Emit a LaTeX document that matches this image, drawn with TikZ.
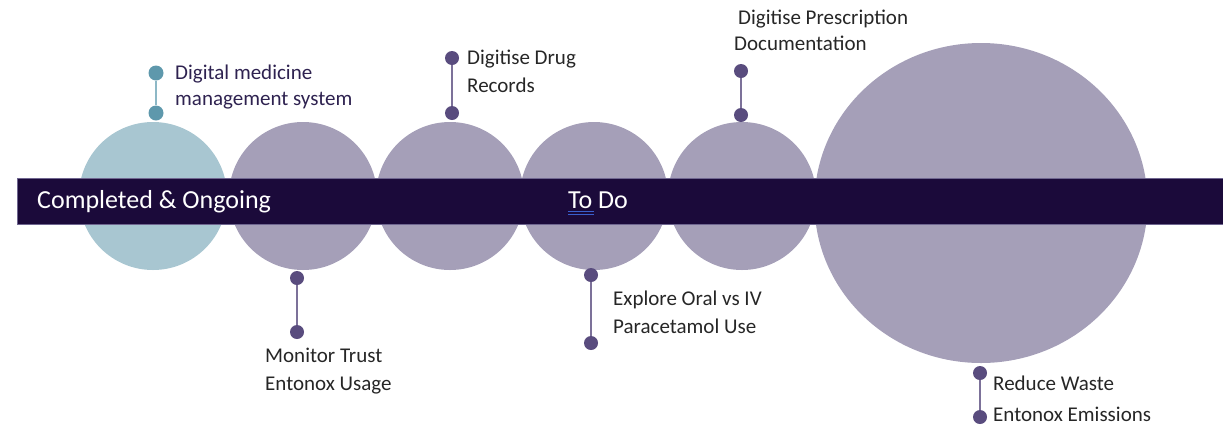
\documentclass[tikz,border=0pt]{standalone}
\usepackage{fontspec}
\setmainfont{Carlito}
\usetikzlibrary{shapes.geometric}
\definecolor{tealc}{HTML}{A8C6D1}
\definecolor{purc}{HTML}{A59FB8}
\definecolor{barc}{HTML}{1B0A3A}
\definecolor{barline}{HTML}{6F6690}
\definecolor{dotp}{HTML}{594C7E}
\definecolor{linep}{HTML}{7C7199}
\definecolor{dott}{HTML}{5E98AC}
\definecolor{linet}{HTML}{8DB8C6}
\definecolor{txtd}{HTML}{262626}
\definecolor{txtp}{HTML}{2E2250}
\definecolor{ulblue}{HTML}{3A5FCD}
\begin{document}
\begin{tikzpicture}[x=1pt,y=-1pt,
  bigc/.style={circle,fill=#1,minimum size=148pt,inner sep=0pt,draw=none},
  pdot/.style={circle,fill=dotp,minimum size=14pt,inner sep=0pt},
  tdot/.style={circle,fill=dott,minimum size=15pt,inner sep=0pt},
  pline/.style={draw=linep,line width=1.6pt},
  tline/.style={draw=linet,line width=1.6pt},
  lbl/.style={anchor=base west,inner sep=0pt,text=txtd,font=\fontsize{21}{28}\selectfont},
  bartxt/.style={anchor=base west,inner sep=0pt,text=white,font=\fontsize{26}{30}\selectfont}]
\useasboundingbox (0,0) rectangle (1223,424);
% circles
\node[bigc=tealc] (c1) at (153,196) {};
\node[bigc=purc] (c2) at (303,196) {};
\node[bigc=purc] (c3) at (450,196) {};
\node[bigc=purc] (c4) at (594,196) {};
\node[bigc=purc] (c5) at (742,196) {};
\node[ellipse,fill=purc,minimum width=333pt,minimum height=320pt,inner sep=0pt] (c6) at (981,203) {};
% bar
\node[rectangle,fill=barc,draw=barline,line width=0.8pt,minimum width=1210pt,minimum height=46pt,inner sep=0pt,anchor=north west] (bar) at (17,178) {};
\node[bartxt] (t1) at (37,208) {Completed \& Ongoing};
\node[bartxt] (t2) at (568,208) {To Do};
\draw[ulblue,line width=0.7pt] (t2.base west) ++(0,3) coordinate (u1) -- ++(26,0);
\draw[ulblue,line width=0.7pt] (u1) ++(0,3) -- ++(26,0);
% digital medicine
\node[tdot] (d1a) at (156,73) {};
\node[tdot] (d1b) at (156,113) {};
\draw[tline] (d1a) -- (d1b);
\node[lbl,text=txtp] (l1) at (175,79) {Digital medicine};
\node[lbl,text=txtp] (l1b) at (175,105) {management system};
% monitor trust
\node[pdot] (d2a) at (297,278) {};
\node[pdot] (d2b) at (297,332) {};
\draw[pline] (d2a) -- (d2b);
\node[lbl] (l2) at (265,362) {Monitor Trust};
\node[lbl] (l2b) at (265,390) {Entonox Usage};
% digitise drug
\node[pdot] (d3a) at (452,58) {};
\node[pdot] (d3b) at (452,113) {};
\draw[pline] (d3a) -- (d3b);
\node[lbl] (l3) at (467,64) {Digitise Drug};
\node[lbl] (l3b) at (467,92) {Records};
% explore oral
\node[pdot] (d4a) at (591,275) {};
\node[pdot] (d4b) at (591,343) {};
\draw[pline] (d4a) -- (d4b);
\node[lbl] (l4) at (613,305) {Explore Oral vs IV};
\node[lbl] (l4b) at (613,333) {Paracetamol Use};
% digitise prescription
\node[pdot] (d5a) at (741,71) {};
\node[pdot] (d5b) at (741,115) {};
\draw[pline] (d5a) -- (d5b);
\node[lbl] (l5) at (738,24) {Digitise Prescription};
\node[lbl] (l5b) at (734,50) {Documentation};
% reduce waste
\node[pdot] (d6a) at (980,373) {};
\node[pdot] (d6b) at (980,417) {};
\draw[pline] (d6a) -- (d6b);
\node[lbl] (l6) at (993,390) {Reduce Waste};
\node[lbl] (l6b) at (993,421) {Entonox Emissions};
\end{tikzpicture}
\end{document}
